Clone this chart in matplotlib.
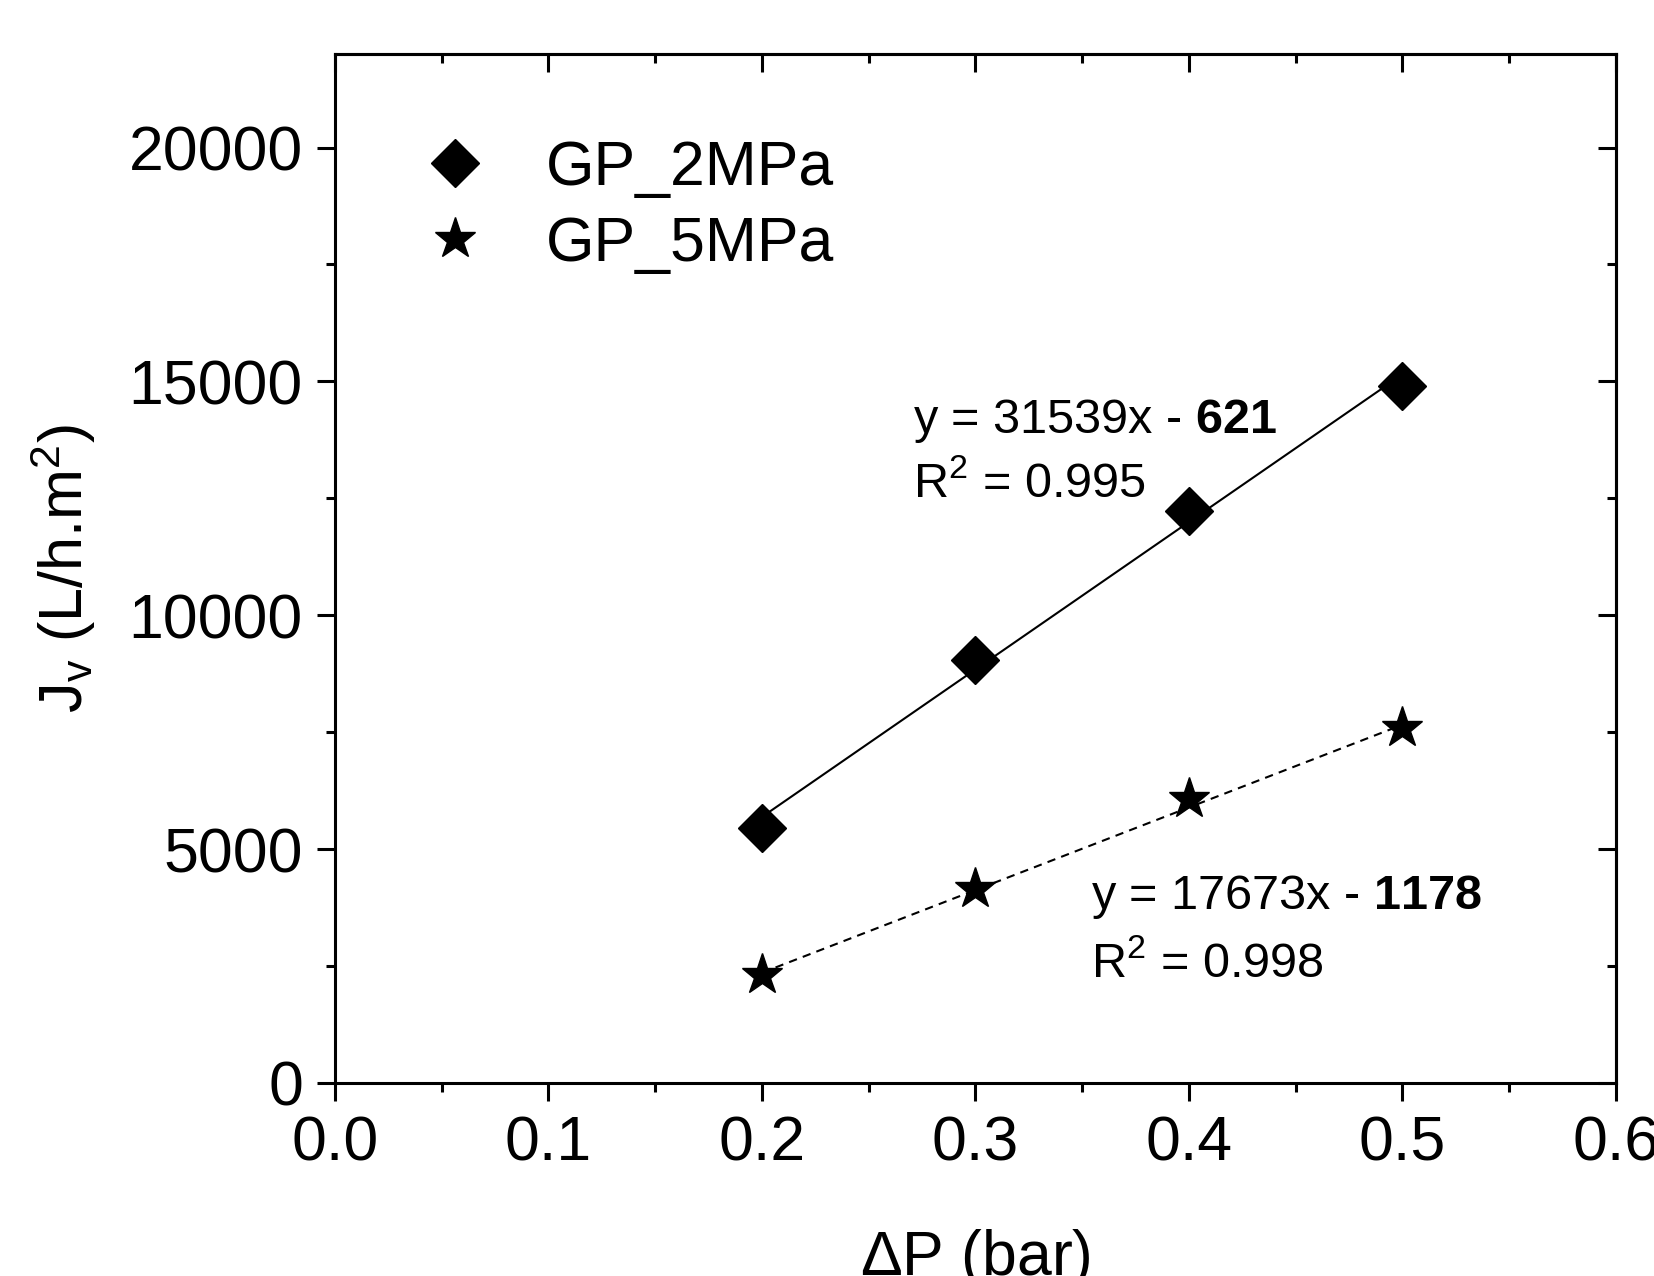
import matplotlib
matplotlib.use("Agg")
import matplotlib.pyplot as plt
import numpy as np
from matplotlib.ticker import MultipleLocator

plt.rcParams["font.family"] = ["Liberation Sans", "DejaVu Sans"]
plt.rcParams["mathtext.fontset"] = "custom"
plt.rcParams["mathtext.rm"] = "Liberation Sans"
plt.rcParams["mathtext.bf"] = "Liberation Sans:bold"
plt.rcParams["mathtext.it"] = "Liberation Sans:italic"

# data
dp = [0.2, 0.3, 0.4, 0.5]
jv_2mpa = [5450, 9050, 12230, 14900]
jv_5mpa = [2300, 4150, 6070, 7580]

# linear fits as printed on the chart
fit_2mpa = (31539, -621, "621", "0.995")
fit_5mpa = (17673, -1178, "1178", "0.998")

fig = plt.figure(figsize=(16.54, 12.76), dpi=100)
ax = fig.add_axes([0.2025, 0.1513, 0.7745, 0.8064])

x_fit = np.array([dp[0], dp[-1]])
ax.plot(x_fit, fit_2mpa[0] * x_fit + fit_2mpa[1], color="black", linewidth=1.5, zorder=2)
ax.plot(x_fit, fit_5mpa[0] * x_fit + fit_5mpa[1], color="black", linewidth=1.5,
        dashes=(4, 3), zorder=2)

ax.plot(dp, jv_2mpa, linestyle="none", marker="D", markersize=24.5, color="black",
        label="GP_2MPa", zorder=3)
ax.plot(dp, jv_5mpa, linestyle="none", marker="*", markersize=31, color="black",
        label="GP_5MPa", zorder=3)

ax.set_xlim(0, 0.6)
ax.set_ylim(0, 22000)
ax.xaxis.set_major_locator(MultipleLocator(0.1))
ax.xaxis.set_minor_locator(MultipleLocator(0.05))
ax.yaxis.set_major_locator(MultipleLocator(5000))
ax.yaxis.set_minor_locator(MultipleLocator(2500))
ax.xaxis.set_major_formatter(matplotlib.ticker.FormatStrFormatter("%.1f"))

for side in ["left", "right", "top", "bottom"]:
    ax.spines[side].set_linewidth(2.2)

ax.tick_params(which="both", direction="out", width=2.2, labelsize=45, pad=10,
               bottom=True, left=True, top=False, right=False)
ax.tick_params(which="major", length=13)
ax.tick_params(which="minor", length=6.5)

# inward ticks on top/right (no labels)
axt = ax.secondary_xaxis("top")
axt.xaxis.set_major_locator(MultipleLocator(0.1))
axt.xaxis.set_minor_locator(MultipleLocator(0.05))
axt.tick_params(which="both", direction="in", width=2.2, labeltop=False)
axt.tick_params(which="major", length=13)
axt.tick_params(which="minor", length=6.5)
axt.spines["top"].set_linewidth(2.2)
axr = ax.secondary_yaxis("right")
axr.yaxis.set_major_locator(MultipleLocator(5000))
axr.yaxis.set_minor_locator(MultipleLocator(2500))
axr.tick_params(which="both", direction="in", width=2.2, labelright=False)
axr.tick_params(which="major", length=13)
axr.tick_params(which="minor", length=6.5)
axr.spines["right"].set_linewidth(2.2)

ax.set_xlabel(r"$\mathregular{\Delta}$P (bar)", fontsize=45, labelpad=38)
ax.set_ylabel(r"J$_\mathregular{v}$ (L/h.m$^\mathregular{2}$)", fontsize=44, labelpad=22)

ax.text(0.2707, 13904, r"y = %dx - $\mathbf{%s}$" % (fit_2mpa[0], fit_2mpa[2]),
        fontsize=35, va="baseline", ha="left")
ax.text(0.2707, 12537, r"R$^\mathregular{2}$ = %s" % fit_2mpa[3],
        fontsize=35, va="baseline", ha="left")
ax.text(0.3541, 3716, r"y = %dx - $\mathbf{%s}$" % (fit_5mpa[0], fit_5mpa[2]),
        fontsize=35, va="baseline", ha="left")
ax.text(0.3541, 2264, r"R$^\mathregular{2}$ = %s" % fit_5mpa[3],
        fontsize=35, va="baseline", ha="left")

ax.legend(loc="upper left", bbox_to_anchor=(0.05, 0.942), frameon=False, fontsize=45,
          numpoints=1, handlelength=1.0, handletextpad=0.95, labelspacing=0.28,
          borderaxespad=0)

fig.savefig("out.png", dpi=100)
